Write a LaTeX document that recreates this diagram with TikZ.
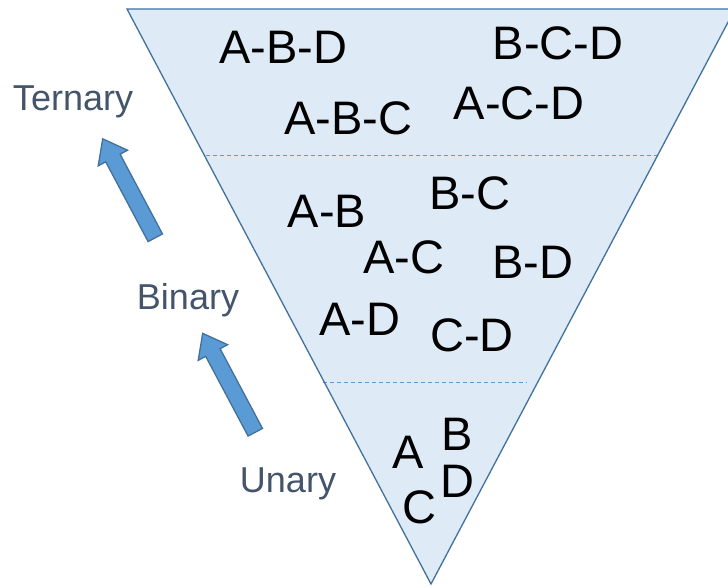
\documentclass[tikz,border=0pt]{standalone}
\usepackage{fontspec}
\setmainfont{Liberation Sans}
\usetikzlibrary{shapes.arrows}
\definecolor{pyrfill}{HTML}{DEEBF7}
\definecolor{pyredge}{HTML}{41719C}
\definecolor{pyrdash}{HTML}{5B9BD5}
\definecolor{lvltext}{HTML}{44546A}

\begin{document}
\begin{tikzpicture}[x=1pt,y=1pt,inner sep=0pt,
    combo/.style={font=\fontsize{47}{47}\selectfont},
    level/.style={text=lvltext,font=\fontsize{36}{36}\selectfont},
    sep/.style={pyrdash,dashed,line width=0.9pt,dash pattern=on 4pt off 3pt},
    uparrow/.style={single arrow,draw=pyredge,fill=pyrdash,line width=1.3pt,
        inner xsep=0pt,inner ysep=7.5pt,minimum height=112pt,
        single arrow head extend=8.5pt,single arrow tip angle=75,rotate=118}]
\useasboundingbox (0,0) rectangle (728,587);
% pyramid
\coordinate (top left) at (127,578);
\coordinate (top right) at (735,578);
\coordinate (apex) at (431,3);
\fill[pyrfill] (top left) -- (top right) -- (apex) -- cycle;
\coordinate (s1l) at (206,432);
\coordinate (s1r) at (659,432);
\coordinate (s2l) at (323,205);
\coordinate (s2r) at (527,205);
\draw[sep] (s1l) -- (s1r);
\draw[sep] (s2l) -- (s2r);
\draw[pyredge,line width=1.3pt,line join=miter] (top left) -- (top right) -- (apex) -- cycle;
% ternary
\node[combo] (abd) at (283,540) {A-B-D};
\node[combo] (bcd) at (558,544) {B-C-D};
\node[combo] (abc) at (348,469) {A-B-C};
\node[combo] (acd) at (519,484) {A-C-D};
% binary
\node[combo] (ab) at (327,376) {A-B};
\node[combo] (bc) at (470,394) {B-C};
\node[combo] (ac) at (404,330) {A-C};
\node[combo] (bd) at (533,325) {B-D};
\node[combo] (ad) at (360,268) {A-D};
\node[combo] (cd) at (472,252) {C-D};
% unary
\node[combo] (a) at (408,135) {A};
\node[combo] (b) at (457,153) {B};
\node[combo] (d) at (457,106) {D};
\node[combo] (c) at (419,80) {C};
% levels
\node[level] (ternary) at (73,485) {Ternary};
\node[level] (binary) at (188,287) {Binary};
\node[level] (unary) at (288,103) {Unary};
\node[uparrow] (up1) at (131.5,394) {};
\node[uparrow] (up2) at (231.5,199.5) {};
\end{tikzpicture}
\end{document}
